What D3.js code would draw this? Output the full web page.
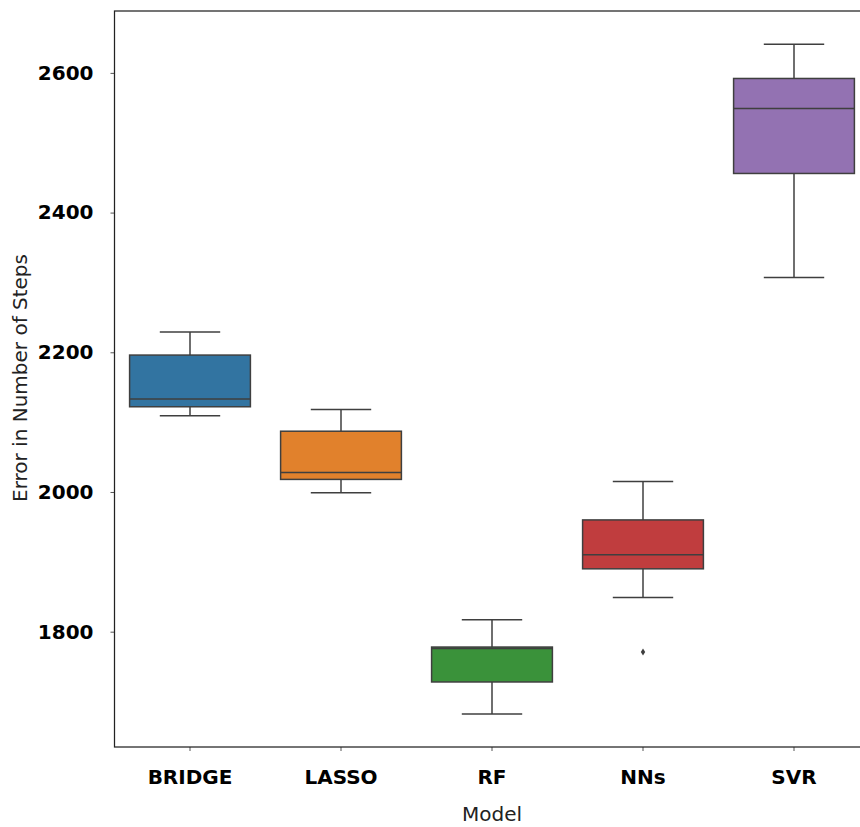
<!DOCTYPE html>
<html>
<head>
<meta charset="utf-8">
<script src="https://cdn.jsdelivr.net/npm/d3@7"></script>
<style>
  html, body { margin: 0; padding: 0; background: #ffffff; }
  svg { display: block; }
  text { font-family: "DejaVu Sans", sans-serif; }
</style>
</head>
<body>
<svg id="chart" width="860" height="827"></svg>
<script>
// Error distribution per model (box summary statistics)
const models   = ["BRIDGE", "LASSO", "RF", "NNs", "SVR"];
const whiskLow = [2109, 1999, 1682, 1849, 2307];
const q1       = [2122, 2018, 1728, 1890, 2456];
const medians  = [2133, 2028, 1776, 1910, 2549];
const q3       = [2196, 2087, 1778, 1960, 2592];
const whiskHigh= [2229, 2118, 1817, 2015, 2641];
const outliers = [[], [], [], [1771], []];
const yTicks   = [1800, 2000, 2200, 2400, 2600];
const colors   = ["#3274a1", "#e1812c", "#3a923a", "#c03d3e", "#9372b2"];

const svg = d3.select("#chart");
const plotL = 114.5, plotR = 869.5, plotT = 11, plotB = 747;

const x = d3.scaleBand().domain(models).range([plotL, plotR]).padding(0);
const y = d3.scaleLinear().domain([1634.9, 2688.6]).range([plotB, plotT]);

const lineCol = "#3f3f3f";
const boxW = x.bandwidth() * 0.8;
const capW = boxW * 0.5;

const g = svg.append("g");

models.forEach((m, i) => {
  const cx = x(m) + x.bandwidth() / 2;
  // whiskers
  g.append("line").attr("x1", cx).attr("x2", cx)
    .attr("y1", y(whiskHigh[i])).attr("y2", y(q3[i]))
    .attr("stroke", lineCol).attr("stroke-width", 1.5);
  g.append("line").attr("x1", cx).attr("x2", cx)
    .attr("y1", y(q1[i])).attr("y2", y(whiskLow[i]))
    .attr("stroke", lineCol).attr("stroke-width", 1.5);
  // caps
  [whiskHigh[i], whiskLow[i]].forEach(v => {
    g.append("line").attr("x1", cx - capW / 2).attr("x2", cx + capW / 2)
      .attr("y1", y(v)).attr("y2", y(v))
      .attr("stroke", lineCol).attr("stroke-width", 1.5);
  });
  // box
  g.append("rect")
    .attr("x", cx - boxW / 2).attr("width", boxW)
    .attr("y", y(q3[i])).attr("height", y(q1[i]) - y(q3[i]))
    .attr("fill", colors[i]).attr("stroke", lineCol).attr("stroke-width", 1.5);
  // median
  g.append("line").attr("x1", cx - boxW / 2).attr("x2", cx + boxW / 2)
    .attr("y1", y(medians[i])).attr("y2", y(medians[i]))
    .attr("stroke", lineCol).attr("stroke-width", 1.5);
  // outliers
  outliers[i].forEach(v => {
    g.append("path")
      .attr("transform", `translate(${cx},${y(v)})`)
      .attr("d", "M0,-3.5 L2.2,0 L0,3.5 L-2.2,0 Z")
      .attr("fill", lineCol);
  });
});

// axes
const yAxis = d3.axisLeft(y).tickValues(yTicks).tickSize(4).tickPadding(17).tickFormat(d3.format("d"));
const yg = svg.append("g").attr("transform", `translate(${plotL},0)`).call(yAxis);
yg.select(".domain").remove();
yg.selectAll(".tick line").attr("stroke", "#555").attr("stroke-width", 1);
yg.selectAll(".tick text").attr("font-size", 20).attr("font-weight", "bold")
  .attr("fill", "#000").style("font-family", "DejaVu Sans");

const xAxis = d3.axisBottom(x).tickSize(4).tickPadding(19);
const xg = svg.append("g").attr("transform", `translate(0,${plotB})`).call(xAxis);
xg.select(".domain").remove();
xg.selectAll(".tick line").attr("stroke", "#555").attr("stroke-width", 1);
xg.selectAll(".tick text").attr("font-size", 20).attr("font-weight", "bold")
  .attr("fill", "#000").style("font-family", "DejaVu Sans");

// frame
svg.append("rect").attr("x", plotL).attr("y", plotT)
  .attr("width", plotR - plotL).attr("height", plotB - plotT)
  .attr("fill", "none").attr("stroke", "#222").attr("stroke-width", 1.25);

// axis titles
svg.append("text").attr("x", x("RF") + x.bandwidth() / 2).attr("y", 821)
  .attr("text-anchor", "middle").attr("font-size", 20).attr("fill", "#222")
  .text("Model");
svg.append("text").attr("transform", "translate(27,378) rotate(-90)")
  .attr("text-anchor", "middle").attr("font-size", 20).attr("fill", "#222")
  .text("Error in Number of Steps");
</script>
</body>
</html>
